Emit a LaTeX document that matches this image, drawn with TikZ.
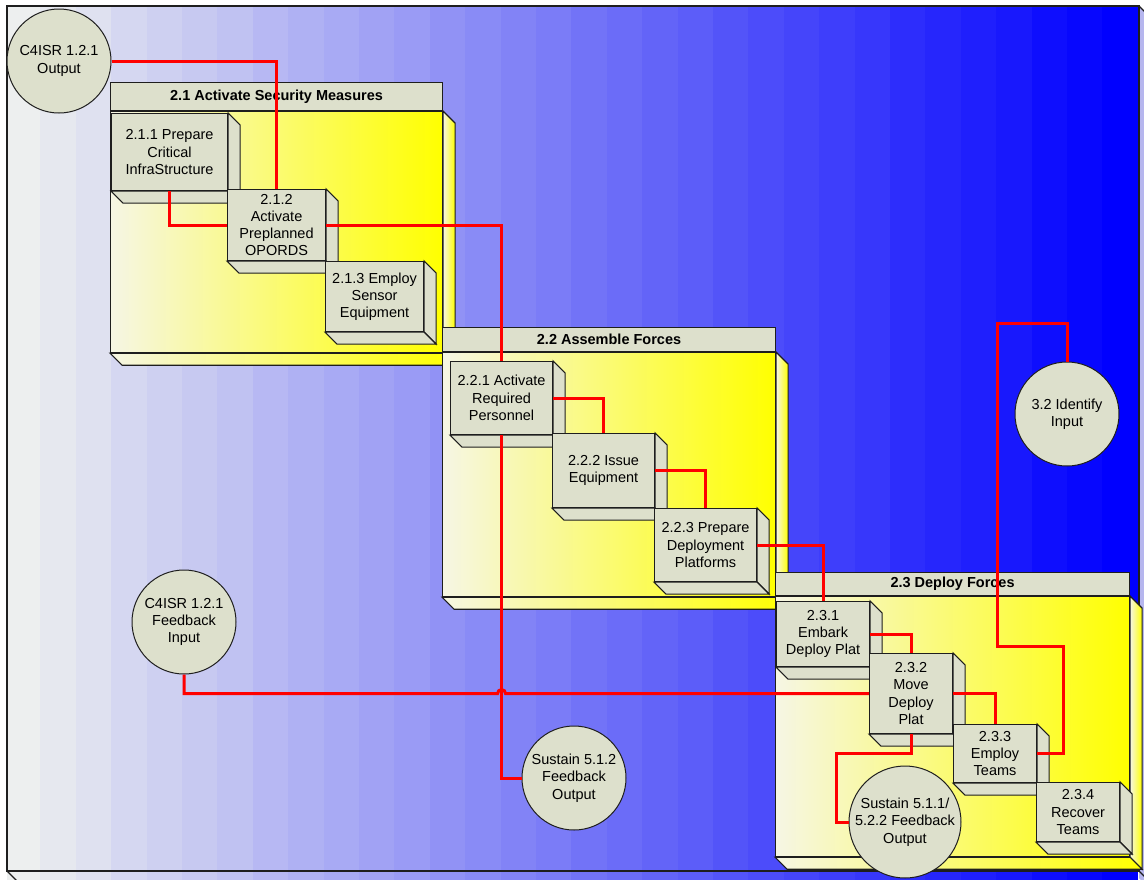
\documentclass[tikz,border=0pt]{standalone}
\usepackage{fontspec}
\setmainfont{Liberation Sans}
\usetikzlibrary{calc,shapes.geometric}

\definecolor{boxgray}{RGB}{221,224,204}
\definecolor{bgL}{RGB}{237,239,239}
\definecolor{cream}{RGB}{246,246,228}
\definecolor{sidelav}{RGB}{182,182,238}
\definecolor{linkred}{RGB}{255,0,0}
\definecolor{edge}{RGB}{30,30,30}

\tikzset{
  every node/.style={font=\fontsize{14.5}{17.3}\selectfont, text=black},
  task/.style={draw=edge, line width=1.1pt, fill=boxgray, rectangle, anchor=north west,
    inner sep=2pt, align=center},
  face/.style={draw=edge, line width=1.1pt, fill=boxgray, line join=miter},
  header/.style={draw=edge, line width=1.1pt, fill=boxgray, anchor=north west, inner sep=0pt,
    font=\fontsize{14.5}{17.3}\selectfont\bfseries},
  groupbody/.style={draw=edge, line width=1.1pt, anchor=north west, inner sep=0pt,
    left color=cream, right color=yellow},
  groupface/.style={draw=edge, line width=1.1pt, left color=cream, right color=yellow},
  port/.style={circle, draw=edge, line width=1pt, fill=boxgray, inner sep=0pt,
    minimum size=104pt, align=center},
  link/.style={draw=linkred, line width=3pt},
}

% a task box: name, left, top, width, height, label
\newcommand\mytask[6]{%
  \node[task, minimum width=#4pt, minimum height=#5pt] (#1) at (#2,#3) {#6};
  \path[face] (#1.north east) -- ++(12,12) -- ($(#1.south east)+(12,12)$)
    -- (#1.south east) -- cycle;
  \path[face] (#1.south west) -- (#1.south east) -- ($(#1.south east)+(12,12)$)
    -- ($(#1.south west)+(12,12)$) -- cycle;
}
% a group frame: name, left, top, width, header height, body height, title
\newcommand\mygroup[7]{%
  \node[header, minimum width=#4pt, minimum height=#5pt] (#1h) at (#2,#3) {#7};
  \node[groupbody, minimum width=#4pt, minimum height=#6pt] (#1) at (#1h.south west) {};
  \path[groupface] (#1.north east) -- ++(12,12) -- ($(#1.south east)+(12,12)$)
    -- (#1.south east) -- cycle;
  \path[groupface] (#1.south west) -- (#1.south east) -- ($(#1.south east)+(12,12)$)
    -- ($(#1.south west)+(12,12)$) -- cycle;
}

\begin{document}
\begin{tikzpicture}[x=1pt, y=-1pt]
\useasboundingbox (0,0) rectangle (1144,879);

% banded background panel
\begin{scope}
  \clip (7,6) rectangle (1139,884);
  \foreach \i in {0,...,31}{
    \pgfmathtruncatemacro\p{round(\i*100/31)}
    \fill[blue!\p!bgL] ({5+\i*35.4},0) rectangle ++(36,890);
  }
\end{scope}
\fill[sidelav] (1139,6) -- (1151,18) -- (1151,890) -- (1139,878) -- cycle;
\draw[edge, line width=1.3pt] (7,871) -- (7,6) -- (1139,6) -- (1139,871) -- cycle;
\draw[edge, line width=1.1pt] (1139,6) -- (1151,18) (7,871) -- (19,883) (1139,871) -- (1151,883);

% groups
\mygroup{g21}{110}{82}{332}{28}{241}{2.1 Activate Security Measures}
\mygroup{g22}{442}{327}{333}{24}{244}{2.2 Assemble Forces}
\mygroup{g23}{775}{572}{354}{23}{260}{2.3 Deploy Forces}

% tasks
\mytask{t211}{111}{113}{116}{77}{2.1.1 Prepare\\Critical\\InfraStructure}
\mytask{t212}{227}{189}{98}{71}{2.1.2\\Activate\\Preplanned\\OPORDS}
\mytask{t213}{325}{261}{98}{70}{2.1.3 Employ\\Sensor\\Equipment}
\mytask{t221}{450}{361}{102}{73}{2.2.1 Activate\\Required\\Personnel}
\mytask{t222}{552}{433}{102}{74}{2.2.2 Issue\\Equipment}
\mytask{t223}{654}{508}{102}{73}{2.2.3 Prepare\\Deployment\\Platforms}
\mytask{t231}{776}{601}{93}{65}{2.3.1\\Embark\\Deploy Plat}
\mytask{t232}{869}{653}{83}{80}{2.3.2\\Move\\Deploy\\Plat}
\mytask{t233}{953}{724}{83}{58}{2.3.3\\Employ\\Teams}
\mytask{t234}{1036}{782}{83}{59}{2.3.4\\Recover\\Teams}

% inputs and outputs
\node[port] (c121o) at (59,61) {C4ISR 1.2.1\\Output};
\node[port] (c32) at (1067,414) {3.2 Identify\\Input};
\node[port] (c121f) at (184,622) {C4ISR 1.2.1\\Feedback\\Input};
\node[port] (s512) at (574,778) {Sustain 5.1.2\\Feedback\\Output};
\node[port, minimum size=112pt] (s511) at (905,822)
  {Sustain 5.1.1/\\5.2.2 Feedback\\Output};

% routing points
\coordinate (j1) at (836,753);
\coordinate (k1) at (997,323);
\coordinate (k2) at (1063,646);
\coordinate (hopL) at ($(t221.south |- t232.west)+(-4,0)$);

% connectors
\draw[link] (c121o.east) -| (t212.north);
\draw[link] (t211.south) |- (t212.west);
\draw[link] (t212.east) -| (t221.north);
\draw[link] (t221.east) -| (t222.north);
\draw[link] (t222.east) -| (t223.north);
\draw[link] (t223.east) -| (t231.north);
\draw[link] (t231.east) -| (t232.north);
\draw[link] (t232.east) -| (t233.north);
\draw[link] (t232.south) |- (j1) |- (s511.west);
\draw[link] (c32.north) |- (k1) |- (k2) |- (t233.east);
\draw[link] (t221.south) |- (s512.west);
\draw[link] (c121f.south) |- (hopL) arc[start angle=180, end angle=0, radius=4pt] -- (t232.west);
\end{tikzpicture}
\end{document}
